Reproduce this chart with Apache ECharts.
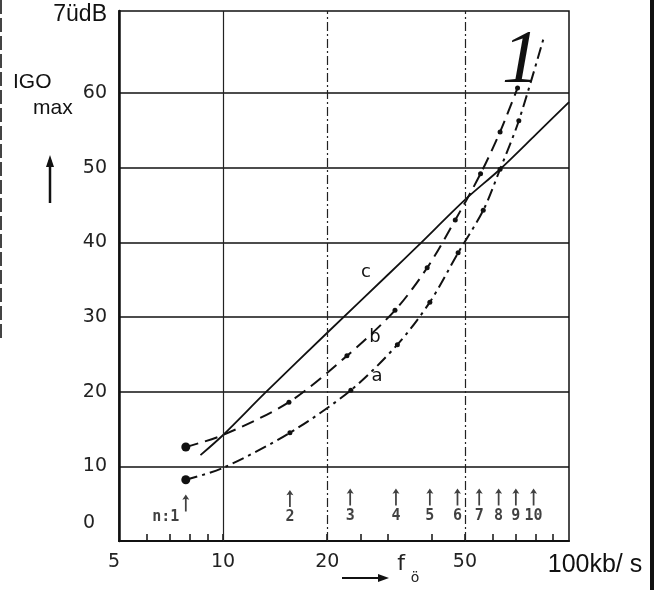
<!DOCTYPE html>
<html>
<head>
<meta charset="utf-8">
<script src="https://cdn.jsdelivr.net/npm/echarts@6/dist/echarts.min.js"></script>
<style>
  html, body { margin: 0; padding: 0; background: #fff; }
  #chart { width: 656px; height: 590px; }
</style>
</head>
<body>
<div id="chart"></div>
<script>
// Achsen (x logarithmisch, kb/s)
const xLabelTicks = [5, 10, 20, 50, 100];
const xMinorTicks = [6, 7, 8, 9, 10, 20, 25, 30, 40, 50, 60, 70, 80, 90];
const xGridLines = [10, 20, 50];
const yLabelTicks = [0, 10, 20, 30, 40, 50, 60, 71];
const yGridTicks = [0, 10, 20, 30, 40, 50, 60];

// Kurve a
const aX = [7.8, 10, 15.6, 23.4, 31.9, 39.6, 47.8, 56.5, 63.2, 71.6, 85];
const aY = [8.2, 9.8, 14.5, 20.2, 26.3, 32.0, 38.6, 44.3, 49.8, 56.3, 67.8];
// Kurve b
const bX = [7.8, 10, 15.5, 22.8, 31.4, 38.9, 46.9, 55.5, 63.2, 71];
const bY = [12.6, 14.2, 18.6, 24.8, 30.9, 36.6, 43.0, 49.2, 54.8, 60.7];
// Kurve c
const cX = [8.6, 10, 13.2, 20, 30, 36.5, 50, 63.2, 80, 100];
const cY = [11.5, 14.2, 19.8, 27.9, 35.7, 39.5, 45.7, 49.8, 54.4, 58.8];

// Pfeile n:1 ... 10
const arrowX = [7.8, 15.6, 23.3, 31.6, 39.6, 47.6, 55, 62.6, 70.2, 79];
const arrowY = [5.1, 5.7, 5.9, 5.9, 5.9, 5.9, 5.9, 5.9, 5.9, 5.9];
const arrowLabels = ['n:1', '2', '3', '4', '5', '6', '7', '8', '9', '10'];

const lg = Math.log10;
const chart = echarts.init(document.getElementById('chart'), null, { renderer: 'canvas' });

// Punkte: nur an den n-Stellen ein Punkt
const dotSize = (x, i) => {
  const near = arrowX.some((p) => Math.abs(p - x) < 1.6);
  if (!near) return 0;
  return i === 0 ? 9 : 5;
};
const curveData = (xs, ys, dots) =>
  xs.map((x, i) => ({
    value: [lg(x), ys[i]],
    symbolSize: dots ? dotSize(x, i) : 0,
  }));

const arrowPath = 'path://M5,0 L9,8 L6,7 L6,26 L4,26 L4,7 L1,8 Z';

const option = {
  animation: false,
  backgroundColor: '#fff',
  grid: {
    left: 119,
    right: 87,
    top: 11,
    bottom: 49,
    show: true,
    borderColor: '#111',
    borderWidth: 1.5,
  },
  xAxis: {
    type: 'value',
    min: lg(5),
    max: 2,
    axisLine: { onZero: false, lineStyle: { color: '#111', width: 2 } },
    splitLine: { show: false },
    axisTick: {
      inside: true,
      length: 7,
      customValues: xMinorTicks.map(lg),
      lineStyle: { color: '#111', width: 1.5 },
    },
    axisLabel: {
      customValues: xLabelTicks.map(lg),
      margin: 12,
      fontFamily: 'DejaVu Sans',
      fontSize: 19,
      color: '#222',
      formatter: (v) => {
        const f = Math.round(Math.pow(10, v));
        if (f === 100) return '{u|100kb/ s}';
        if (f === 5) return '{f|5}';
        return String(f);
      },
      rich: {
        u: { fontFamily: 'Liberation Sans', fontSize: 25, color: '#111', padding: [0, 0, 0, 52] },
        f: { fontFamily: 'DejaVu Sans', fontSize: 19, color: '#222', padding: [0, 10, 0, 0] },
      },
    },
  },
  yAxis: {
    type: 'value',
    min: 0,
    max: 71,
    axisLine: { lineStyle: { color: '#111', width: 2.5 } },
    axisTick: { show: false, customValues: yGridTicks },
    splitLine: { show: true, lineStyle: { color: '#111', width: 1.5, type: 'solid' } },
    axisLabel: {
      customValues: yLabelTicks,
      margin: 12,
      fontFamily: 'DejaVu Sans',
      fontSize: 19,
      color: '#222',
      formatter: (v) => {
        if (v === 71) return '{u|7üdB}';
        if (v === 0) return '{z|0}';
        return String(v);
      },
      rich: {
        u: { fontFamily: 'Liberation Sans', fontSize: 23, color: '#111', padding: [8, 0, 0, 0] },
        z: { fontFamily: 'DejaVu Sans', fontSize: 19, color: '#222', padding: [0, 12, 36, 0] },
      },
    },
  },
  series: [
    {
      name: 'c',
      type: 'line',
      smooth: 0.3,
      symbol: 'none',
      data: curveData(cX, cY, false),
      lineStyle: { color: '#111', width: 1.8 },
      markLine: {
        silent: true,
        symbol: 'none',
        label: { show: false },
        data: xGridLines.map((g) => ({
          xAxis: lg(g),
          lineStyle: {
            color: '#222',
            width: 1.2,
            type: g === 10 ? 'solid' : [9, 3, 2, 3],
          },
        })),
      },
    },
    {
      name: 'b',
      type: 'line',
      smooth: 0.3,
      symbol: 'circle',
      data: curveData(bX, bY, true),
      itemStyle: { color: '#111' },
      lineStyle: { color: '#111', width: 2, type: [13, 7] },
    },
    {
      name: 'a',
      type: 'line',
      smooth: 0.3,
      symbol: 'circle',
      data: curveData(aX, aY, true),
      itemStyle: { color: '#111' },
      lineStyle: { color: '#111', width: 2, type: [12, 5, 3, 5] },
    },
    {
      name: 'n',
      type: 'scatter',
      symbol: arrowPath,
      symbolSize: [7, 17],
      itemStyle: { color: '#111' },
      data: arrowX.map((x, i) => ({
        value: [lg(x), arrowY[i]],
        label: i === 0 ? { offset: [-20, -5] } : undefined,
      })),
      label: {
        show: true,
        position: 'bottom',
        distance: 3,
        fontFamily: 'DejaVu Sans Mono',
        fontWeight: 'bold',
        fontSize: 15,
        color: '#111',
        formatter: (p) => arrowLabels[p.dataIndex],
      },
    },
  ],
  graphic: [
    { type: 'text', style: { text: 'IGO', x: 13, y: 82, verticalAlign: 'middle', font: '21px "Liberation Sans"', fill: '#111' } },
    { type: 'text', style: { text: 'max', x: 33, y: 108, verticalAlign: 'middle', font: '21px "Liberation Sans"', fill: '#111' } },
    { type: 'line', shape: { x1: 50, y1: 160, x2: 50, y2: 203 }, style: { stroke: '#111', lineWidth: 2.5 } },
    { type: 'polygon', shape: { points: [[50, 155], [54, 167], [46, 167]] }, style: { fill: '#111' } },
    { type: 'text', style: { text: 'c', x: 366, y: 272, align: 'center', verticalAlign: 'middle', font: '18px "DejaVu Sans"', fill: '#111' } },
    { type: 'text', style: { text: 'b', x: 375, y: 337, align: 'center', verticalAlign: 'middle', font: '18px "DejaVu Sans"', fill: '#111' } },
    { type: 'text', style: { text: 'a', x: 377, y: 376, align: 'center', verticalAlign: 'middle', font: '18px "DejaVu Sans"', fill: '#111' } },
    { type: 'text', style: { text: '1', x: 521, y: 62, align: 'center', verticalAlign: 'middle', font: 'italic 76px "Liberation Serif"', fill: '#111' } },
    { type: 'text', style: { text: 'f', x: 401, y: 564, align: 'center', verticalAlign: 'middle', font: '22px "DejaVu Sans"', fill: '#222' } },
    { type: 'text', style: { text: 'ö', x: 415, y: 578, align: 'center', verticalAlign: 'middle', font: '14px "DejaVu Sans"', fill: '#222' } },
    { type: 'line', shape: { x1: 342, y1: 578, x2: 380, y2: 578 }, style: { stroke: '#111', lineWidth: 2 } },
    { type: 'polygon', shape: { points: [[389, 578], [378, 574], [378, 582]] }, style: { fill: '#111' } },
    { type: 'line', shape: { x1: 652, y1: 0, x2: 652, y2: 590 }, style: { stroke: '#111', lineWidth: 4 } },
    { type: 'line', shape: { x1: 1, y1: 0, x2: 1, y2: 340 }, style: { stroke: '#444', lineWidth: 2, lineDash: [14, 4] } },
  ],
};

chart.setOption(option);
</script>
</body>
</html>
